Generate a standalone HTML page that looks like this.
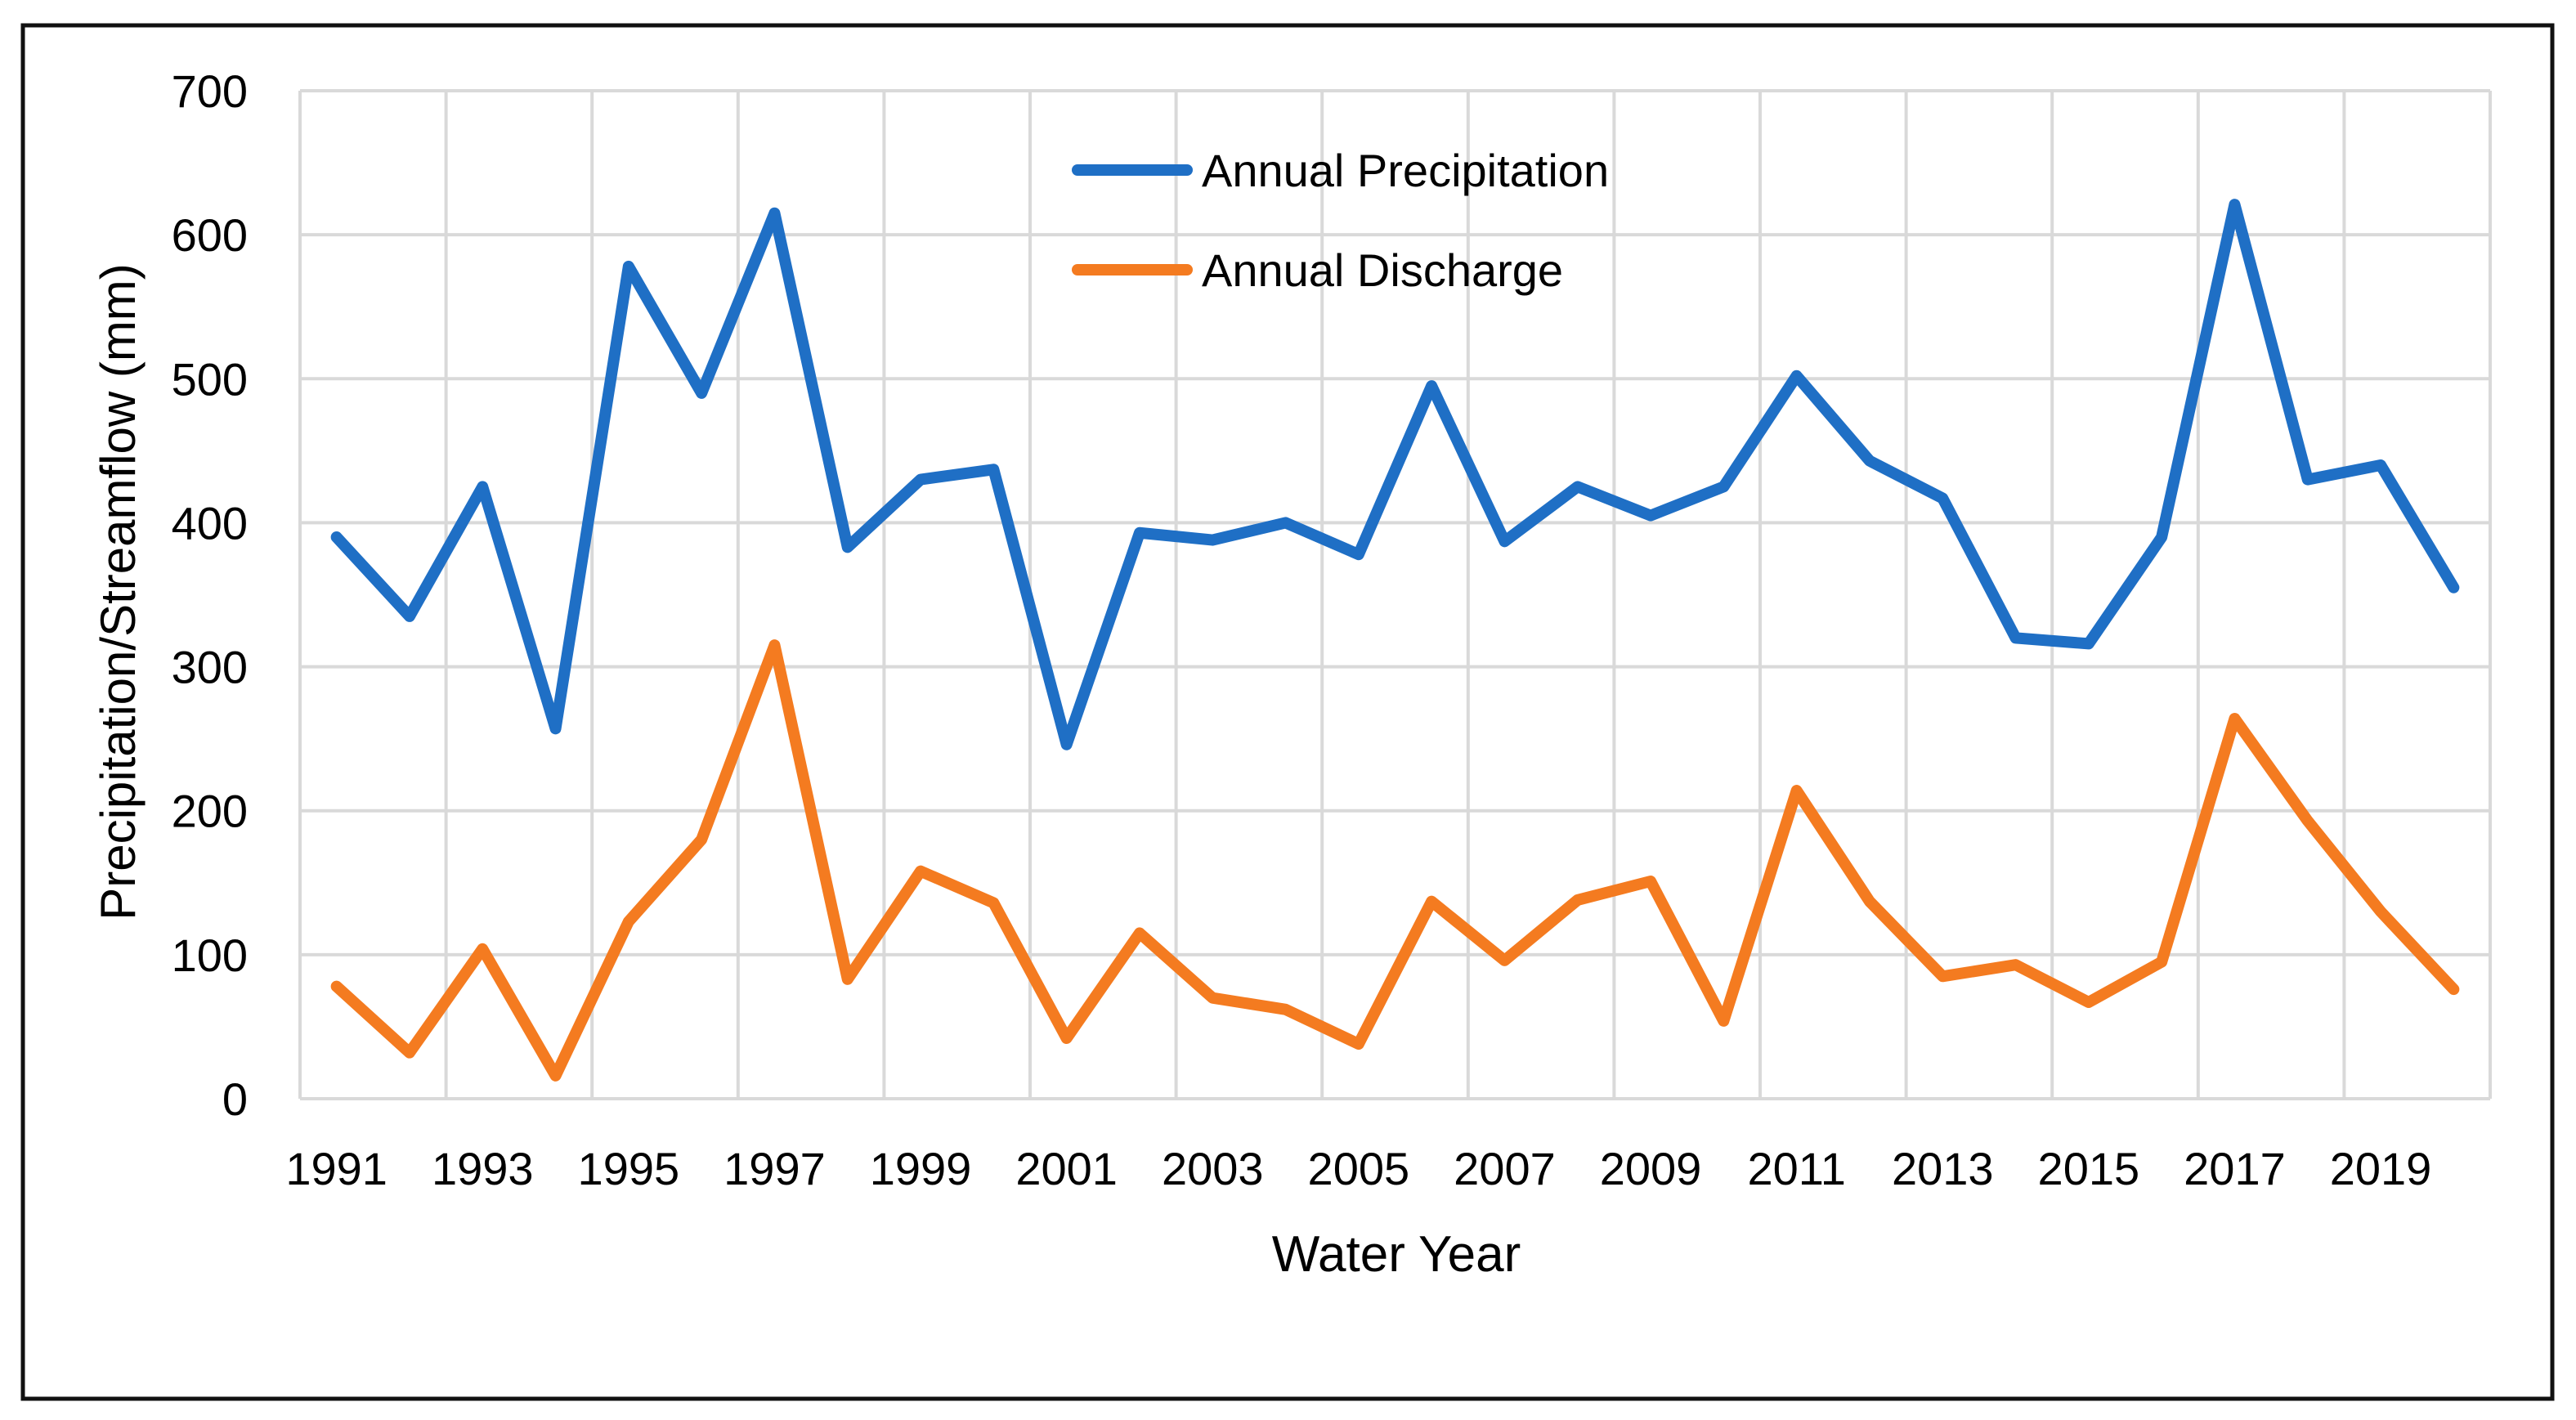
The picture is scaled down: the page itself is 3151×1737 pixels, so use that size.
<!DOCTYPE html>
<html><head><meta charset="utf-8"><style>
html,body{margin:0;padding:0;background:#fff;}
svg{display:block;}
text{font-family:"Liberation Sans",sans-serif;fill:#000;}
</style></head><body>
<svg id="chart" width="3151" height="1737" viewBox="0 0 3151 1737" xmlns="http://www.w3.org/2000/svg">
<rect x="28" y="31" width="3094" height="1680" fill="#fff" stroke="#111" stroke-width="5"/>
<g id="grid"></g><g id="ticks"></g><g id="series"></g>
<text x="1708" y="1555" font-size="62" text-anchor="middle">Water Year</text>
<text transform="translate(165,724) rotate(-90)" font-size="60" text-anchor="middle">Precipitation/Streamflow (mm)</text>
<g>
<line x1="1318" y1="208" x2="1452" y2="208" stroke="#1f6fc5" stroke-width="14" stroke-linecap="round"/>
<text x="1470" y="228" font-size="56">Annual Precipitation</text>
<line x1="1318" y1="330" x2="1452" y2="330" stroke="#f47b20" stroke-width="14" stroke-linecap="round"/>
<text x="1470" y="350" font-size="56">Annual Discharge</text>
</g>
</svg>
<script>
const years = [1991,1992,1993,1994,1995,1996,1997,1998,1999,2000,2001,2002,2003,2004,2005,2006,2007,2008,2009,2010,2011,2012,2013,2014,2015,2016,2017,2018,2019,2020];
const precipitation = [390,335,425,257,578,490,615,383,430,437,246,393,388,400,378,495,387,425,405,425,502,443,417,320,316,390,621,430,440,355];
const discharge = [78,32,104,16,123,180,315,83,158,136,42,115,70,62,38,137,96,138,151,54,214,137,85,93,67,95,264,193,130,76];
const yTicks = [0,100,200,300,400,500,600,700];

const NS="http://www.w3.org/2000/svg";
const L=367,R=3046,T=111,B=1344,YMAX=700;
const bw=(R-L)/years.length;
function xs(i){return L+bw*(i+0.5);}
function ys(v){return B-(v/YMAX)*(B-T);}
function mk(tag,attrs,parent){const e=document.createElementNS(NS,tag);for(const k in attrs)e.setAttribute(k,attrs[k]);parent.appendChild(e);return e;}
const grid=document.getElementById('grid'),ticks=document.getElementById('ticks'),ser=document.getElementById('series');
yTicks.forEach(v=>{
  const g=mk('line',{x1:L,x2:R,y1:ys(v),y2:ys(v),stroke:'#d9d9d9','stroke-width':4},grid);
  
  
  const t=mk('text',{x:303,y:ys(v)+20,'font-size':56,'text-anchor':'end'},ticks);
  t.textContent=v;
  
  
});
for(let i=0;i<=years.length;i+=2){
  const g=mk('line',{x1:L+bw*i,x2:L+bw*i,y1:T,y2:B,stroke:'#d9d9d9','stroke-width':4},grid);
  
  
}
years.forEach((y,i)=>{
  if(i%2) return;
  const t=mk('text',{x:xs(i),y:1449,'font-size':56,'text-anchor':'middle'},ticks);
  t.textContent=y;
  
  
});
function line(vals,color,name){
  const p=mk('polyline',{points:vals.map((v,i)=>xs(i)+','+ys(v)).join(' '),fill:'none',stroke:color,'stroke-width':14,'stroke-linejoin':'round','stroke-linecap':'round'},ser);
  
  
}
line(discharge,'#f47b20','discharge-line');
line(precipitation,'#1f6fc5','precipitation-line');
</script>
</body></html>
